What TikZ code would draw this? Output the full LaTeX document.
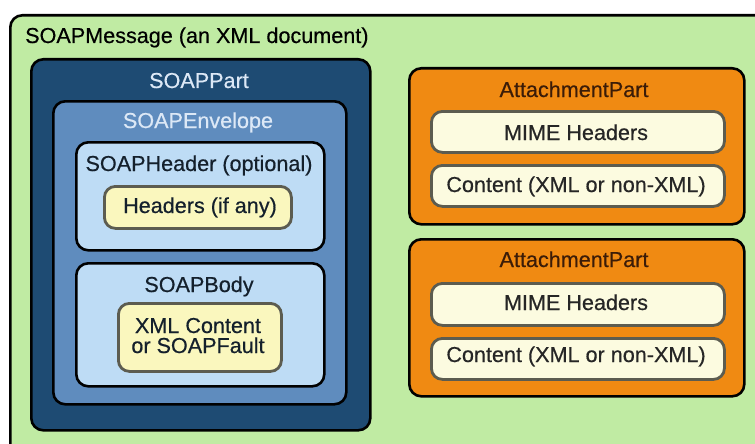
\documentclass[tikz,border=0pt]{standalone}
\usepackage{fontspec}
\setmainfont{Liberation Sans}[FakeBold=0.5]
\definecolor{msggreen}{HTML}{C0EBA3}
\definecolor{partblue}{HTML}{1E4B73}
\definecolor{envblue}{HTML}{5F8CBE}
\definecolor{paleblue}{HTML}{BEDCF5}
\definecolor{hdryellow}{HTML}{FAF7BE}
\definecolor{attorange}{HTML}{F08A12}
\definecolor{cream}{HTML}{FCFBE0}
\definecolor{lighttext}{HTML}{DCE8F6}
\definecolor{darknavy}{HTML}{14202C}
\definecolor{brown}{HTML}{3B1C08}
\definecolor{innerline}{HTML}{5C5C50}
\begin{document}
\begin{tikzpicture}[x=1pt,y=1pt,
  font=\fontsize{21.6}{21}\selectfont,
  frame/.style={draw=black, line width=2.6pt, rounded corners=12pt,
    inner sep=0pt, anchor=north west},
  leaf/.style={draw=innerline, line width=2.8pt, rounded corners=11pt,
    inner sep=0pt, anchor=north west},
  caption/.style={anchor=base, inner sep=0pt}
]
\useasboundingbox (0,0) rectangle (755,-444);
\clip (0,0) rectangle (755,-444);

% the whole message, running off the right and bottom edges
\node[frame, fill=msggreen, minimum width=780, minimum height=460] (msg) at (9,-14) {};
\node[anchor=base west, inner sep=0pt] (msgtitle) at (25,-43) {SOAPMessage (an XML document)};

% SOAP part
\node[frame, fill=partblue, minimum width=339, minimum height=371] (part) at (30,-58) {};
\node[caption, text=lighttext] (parttitle) at (199,-88) {SOAPPart};

\node[frame, fill=envblue, minimum width=293, minimum height=303] (env) at (52,-100) {};
\node[caption, text=lighttext] (envtitle) at (198,-128) {SOAPEnvelope};

\node[frame, fill=paleblue, minimum width=248, minimum height=108] (hdr) at (75,-141) {};
\node[caption, text=darknavy] (hdrtitle) at (199,-171) {SOAPHeader (optional)};
\node[leaf, fill=hdryellow, minimum width=187, minimum height=42] (hdrs) at (103,-185) {};
\node[caption, text=darknavy] (hdrstext) at (200,-213) {Headers (if any)};

\node[frame, fill=paleblue, minimum width=248, minimum height=123] (body) at (75,-262) {};
\node[caption, text=darknavy] (bodytitle) at (199,-292) {SOAPBody};
\node[leaf, fill=hdryellow, minimum width=163, minimum height=68] (bodyc) at (117,-302) {};
\node[caption, text=darknavy] (bodyl1) at (198,-333) {XML Content};
\node[caption, text=darknavy] (bodyl2) at (198,-353) {or SOAPFault};

% attachment parts
\node[frame, fill=attorange, minimum width=335, minimum height=156] (att1) at (408,-67) {};
\node[caption, text=brown] (att1title) at (574,-97) {AttachmentPart};
\node[leaf, fill=cream, minimum width=293, minimum height=41] (mime1) at (430,-110) {};
\node[caption, text=black!85] (mime1text) at (576,-140) {MIME Headers};
\node[leaf, fill=cream, minimum width=293, minimum height=41] (cont1) at (430,-164) {};
\node[caption, text=black!85] (cont1text) at (576,-192) {Content (XML or non-XML)};

\node[frame, fill=attorange, minimum width=335, minimum height=157] (att2) at (408,-238) {};
\node[caption, text=brown] (att2title) at (574,-267) {AttachmentPart};
\node[leaf, fill=cream, minimum width=293, minimum height=42] (mime2) at (430,-282) {};
\node[caption, text=black!85] (mime2text) at (576,-310) {MIME Headers};
\node[leaf, fill=cream, minimum width=293, minimum height=41] (cont2) at (430,-337) {};
\node[caption, text=black!85] (cont2text) at (576,-362) {Content (XML or non-XML)};
\end{tikzpicture}
\end{document}
